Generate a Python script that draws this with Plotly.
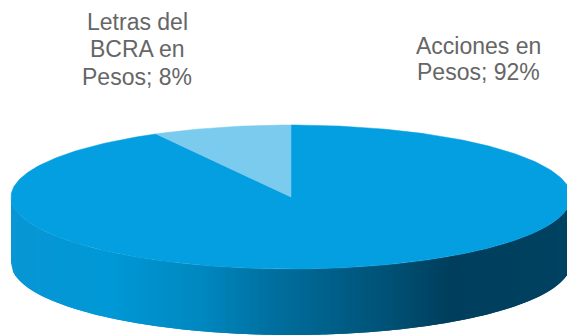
import math
import plotly.graph_objects as go

labels = ["Acciones en Pesos", "Letras del BCRA en Pesos"]
values = [92, 8]
label_lines = [["Acciones en", "Pesos; 92%"], ["Letras del", "BCRA en", "Pesos; 8%"]]
label_centers = [(478, [46, 72]), (137, [22, 49, 77])]
colors = ["#049fe0", "#7bcbee"]

CX, CY, RX, RY, DEPTH = 291, 197, 280, 72, 66
stops = [(11, (8, 150, 212)), (110, (0, 152, 214)), (200, (0, 136, 192)), (270, (0, 112, 160)),
         (330, (0, 96, 138)), (400, (0, 78, 114)), (450, (0, 62, 92)), (571, (0, 66, 98))]


def side_color(x):
    for (x0, c0), (x1, c1) in zip(stops, stops[1:]):
        if x <= x1:
            f = max(0, (x - x0) / (x1 - x0))
            return "rgb(%d,%d,%d)" % tuple(round(a + (b - a) * f) for a, b in zip(c0, c1))
    return "rgb(0,66,98)"


def pt(t, dy=0):
    return CX + RX * math.sin(t), CY - RY * math.cos(t) + dy


fig = go.Figure()

# side wall: front half of the disc, as evenly wide strips, each running on to the right edge
# so that the next strip paints over it and no seams show
n = 280
edge = [CX - RX + 2 * RX * i / n for i in range(n + 1)]


def front_t(x):
    return math.pi - math.asin(max(-1, min(1, (x - CX) / RX)))


for i in range(n):
    xs_top = edge[i:i + 3] if i + 2 <= n else edge[i:]
    top = [pt(front_t(x)) for x in xs_top]
    low = [pt(front_t(x), DEPTH) for x in reversed(xs_top)]
    poly = top + low + [top[0]]
    col = side_color((edge[i] + edge[i + 1]) / 2)
    fig.add_trace(go.Scatter(x=[p[0] for p in poly], y=[p[1] for p in poly],
                             mode="lines", fill="toself", fillcolor=col,
                             line=dict(width=0), hoverinfo="skip", showlegend=False))

# top face, one wedge per value
total = sum(values)
start = 0.0
for name, v, col in zip(labels, values, colors):
    end = start + v / total * 2 * math.pi
    steps = max(4, int(v * 4))
    pts = [pt(start + (end - start) * k / steps) for k in range(steps + 1)]
    xs = [CX] + [p[0] for p in pts] + [CX]
    ys = [CY] + [p[1] for p in pts] + [CY]
    fig.add_trace(go.Scatter(x=xs, y=ys, mode="lines", fill="toself", fillcolor=col,
                             line=dict(color=col, width=0.5), name=name, showlegend=False))
    start = end

for lines, (x, ys) in zip(label_lines, label_centers):
    for line, y in zip(lines, ys):
        fig.add_annotation(x=x, y=y, text=line, showarrow=False, xanchor="center", yanchor="middle",
                           font=dict(family="Liberation Sans, Arial", size=23, color="#666666"))

fig.update_layout(width=567, height=335, margin=dict(l=0, r=0, t=0, b=0),
                  paper_bgcolor="white", plot_bgcolor="white", showlegend=False,
                  xaxis=dict(range=[0, 567], visible=False, fixedrange=True),
                  yaxis=dict(range=[335, 0], visible=False, fixedrange=True))
fig.write_html("out.html", config={"displayModeBar": False},
               post_script="document.body.style.margin='0';document.body.style.overflow='hidden';")
